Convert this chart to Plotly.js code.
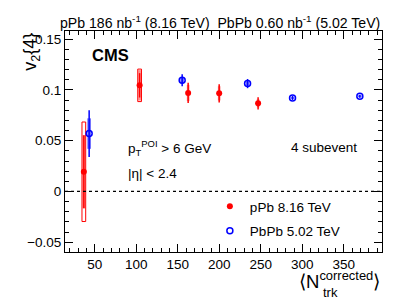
<!DOCTYPE html>
<html>
<head>
<meta charset="utf-8">
<script src="https://cdn.plot.ly/plotly-3.0.1.min.js"></script>
<style>html,body{margin:0;padding:0;background:#fff;}#chart{width:407px;height:301px;}</style>
</head>
<body>
<div id="chart"></div>
<script>
// pPb 8.16 TeV
var pPbX = [36.7, 103.9, 162.4, 199.8, 246.7];
var pPbY = [0.0194, 0.1045, 0.097, 0.0966, 0.0868];
var pPbStat = [0.036, 0.012, 0.010, 0.009, 0.006];
var pPbSys = [0.036, 0.015, 0.008, 0.007, 0.004];
var pPbSys2 = [0.049, 0.016, null, null, null];
// PbPb 5.02 TeV
var PbPbX = [43.1, 155.2, 234.0, 288.2, 369.3];
var PbPbY = [0.057, 0.1095, 0.1062, 0.0921, 0.0937];
var PbPbStat = [0.023, 0.006, 0.0045, 0.002, 0.0015];
var PbPbSys = [0.015, 0.003, 0.002, 0.001, 0.001];

var xTicks = [50, 100, 150, 200, 250, 300, 350];
var yTicks = [-0.05, 0, 0.05, 0.1, 0.15];

function boxBase(y, s) { return y.map(function (v, i) { return v - s[i]; }); }
function boxH(s) { return s.map(function (v) { return 2 * v; }); }

var o2x = [], o2b = [], o2h = [];
pPbSys2.forEach(function (s, i) {
  if (s !== null) { o2x.push(pPbX[i]); o2b.push(pPbY[i] - s); o2h.push(2 * s); }
});

var FONT = 'Liberation Sans, Arial, Helvetica, sans-serif';

var traces = [
  { type: 'bar', x: o2x, base: o2b, y: o2h, width: 4.5, showlegend: false, hoverinfo: 'skip',
    marker: { color: 'rgba(0,0,0,0)', line: { color: 'rgb(255,0,0)', width: 1 } } },
  { type: 'bar', x: pPbX, base: boxBase(pPbY, pPbSys), y: boxH(pPbSys), width: 3.2, showlegend: false, hoverinfo: 'skip',
    marker: { color: 'rgba(255,0,0,0.45)', line: { width: 0 } } },
  { type: 'bar', x: PbPbX, base: boxBase(PbPbY, PbPbSys), y: boxH(PbPbSys), width: 4.5, showlegend: false, hoverinfo: 'skip',
    marker: { color: 'rgba(0,0,255,0.55)', line: { width: 0 } } },
  { type: 'scatter', mode: 'markers', name: 'pPb 8.16 TeV', x: pPbX, y: pPbY, legendgroup: 'a',
    marker: { symbol: 'circle', size: 6, color: 'rgb(255,0,0)' },
    error_y: { type: 'data', array: pPbStat, visible: true, color: 'rgb(255,0,0)', thickness: 1.5, width: 0 } },
  { type: 'scatter', mode: 'markers', name: 'PbPb 5.02 TeV', x: PbPbX, y: PbPbY, legendgroup: 'b',
    marker: { symbol: 'circle-open', size: 6, color: 'rgb(0,0,255)', line: { width: 1.5, color: 'rgb(0,0,255)' } },
    error_y: { type: 'data', array: PbPbStat, visible: true, color: 'rgb(0,0,255)', thickness: 1.5, width: 0 } }
];

var layout = {
  width: 407, height: 301,
  margin: { l: 65, r: 25, t: 31, b: 49 },
  paper_bgcolor: '#fff', plot_bgcolor: '#fff',
  font: { family: FONT, size: 13.5, color: '#000' },
  barmode: 'overlay',
  showlegend: true,
  legend: { x: 0.457, y: 0.276, xanchor: 'left', yanchor: 'top', bgcolor: 'rgba(0,0,0,0)',
    font: { size: 13.5, family: FONT }, traceorder: 'grouped', tracegroupgap: 4 },
  xaxis: {
    range: [14, 396], tickvals: xTicks, ticktext: xTicks.map(String),
    ticks: 'inside', ticklen: 8, tickwidth: 1, tickcolor: '#000',
    showline: true, linecolor: '#000', linewidth: 1, mirror: 'allticks',
    showgrid: false, zeroline: false,
    minor: { dtick: 10, tick0: 0, ticks: 'inside', ticklen: 4, tickcolor: '#000', showgrid: false },
    tickfont: { size: 13.5, family: FONT }
  },
  yaxis: {
    range: [-0.0596, 0.158], tickvals: yTicks, ticktext: ['\u22120.05', '0', '0.05', '0.1', '0.15'],
    ticks: 'inside', ticklen: 8, tickwidth: 1, tickcolor: '#000',
    showline: true, linecolor: '#000', linewidth: 1, mirror: 'allticks',
    showgrid: false, zeroline: false,
    minor: { dtick: 0.01, tick0: 0, ticks: 'inside', ticklen: 4, tickcolor: '#000', showgrid: false },
    tickfont: { size: 13.5, family: FONT }
  },
  shapes: [
    { type: 'line', xref: 'paper', yref: 'y', x0: 0, x1: 1, y0: 0, y1: 0,
      line: { color: '#000', width: 1.2, dash: 'dot' } }
  ],
  annotations: [
    { xref: 'paper', yref: 'paper', x: 1, y: 1.0407, xanchor: 'right', yanchor: 'middle', showarrow: false,
      text: 'pPb 186 nb<sup>-1</sup> (8.16 TeV)  PbPb 0.60 nb<sup>-1</sup> (5.02 TeV)', font: { size: 14.1 } },
    { xref: 'paper', yref: 'paper', x: 0.0789, y: 0.891, xanchor: 'left', yanchor: 'middle', showarrow: false,
      text: '<b>CMS</b>', font: { size: 16.5 } },
    { xref: 'paper', yref: 'paper', x: 0.192, y: 0.4706, xanchor: 'left', yanchor: 'middle', showarrow: false,
      text: 'p<sub>T</sub><sup>POI</sup> > 6 GeV', font: { size: 13.5 } },
    { xref: 'paper', yref: 'paper', x: 0.192, y: 0.353, xanchor: 'left', yanchor: 'middle', showarrow: false,
      text: '|\u03b7| < 2.4', font: { size: 13.5 } },
    { xref: 'paper', yref: 'paper', x: 0.7076, y: 0.4738, xanchor: 'left', yanchor: 'middle', showarrow: false,
      text: '4 subevent', font: { size: 13.5 } },
    { xref: 'paper', yref: 'paper', x: -0.108, y: 1.0, xanchor: 'center', yanchor: 'top', showarrow: false,
      textangle: -90, text: 'v<sub>2</sub>{4}', font: { size: 18 } },
    { xref: 'paper', yref: 'paper', x: 1.0, y: -0.063, xanchor: 'right', yanchor: 'top', showarrow: false,
      text: '\u27e8N<sup>corrected</sup>\u27e9', font: { size: 18.5 } },
    { xref: 'paper', yref: 'paper', x: 0.8076, y: -0.181, xanchor: 'left', yanchor: 'middle', showarrow: false,
      text: 'trk', font: { size: 13 } }
  ]
};

Plotly.newPlot('chart', traces, layout, { staticPlot: true, displayModeBar: false });
</script>
</body>
</html>
